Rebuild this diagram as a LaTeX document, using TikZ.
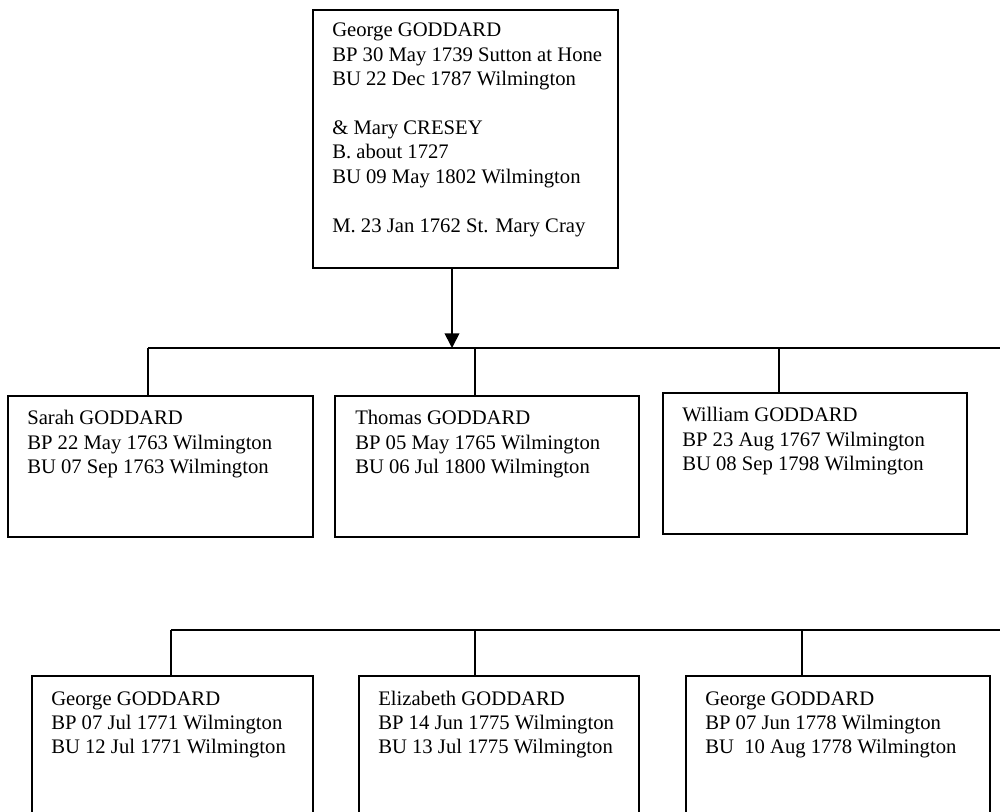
\documentclass[tikz,border=0pt]{standalone}
\usepackage{fontspec}
\setmainfont{Liberation Serif}
\usetikzlibrary{arrows.meta,calc}
\tikzset{
  person/.style={draw=black, line width=1.3pt, rectangle, inner sep=0pt, anchor=north west, fill=white},
  persontext/.style={anchor=base west, inner sep=0pt, font=\fontsize{15.5}{18.3}\selectfont},
  link/.style={draw=black, line width=1.3pt},
  arrowlink/.style={link, -{Triangle[length=11pt,width=11pt]}}
}
\newcommand{\ptext}[1]{\begin{tabular}[t]{@{}l@{}}#1\end{tabular}}
\begin{document}
\begin{tikzpicture}[x=0.75pt,y=-0.75pt]
\useasboundingbox (0,0) rectangle (1000,812);
\clip (0,0) rectangle (1000,812);
\fill[white] (0,0) rectangle (1000,812);

% parents
\node[person, minimum width=228.75pt, minimum height=193.5pt] (top) at (312,9) {};
\node[persontext] (toptext) at ($(top.north west)+(20,28)$) {\ptext{George GODDARD\\BP 30 May 1739 Sutton at Hone\\BU 22 Dec 1787 Wilmington\\ \\\& Mary CRESEY\\B. about 1727\\BU 09 May 1802 Wilmington\\ \\M. 23 Jan 1762 St. Mary Cray}};

% first row of children
\node[person, minimum width=228.75pt, minimum height=105.75pt] (sarah) at (7,395) {};
\node[persontext] (sarahtext) at ($(sarah.north west)+(20,30)$) {\ptext{Sarah GODDARD\\BP 22 May 1763 Wilmington\\BU 07 Sep 1763 Wilmington}};

\node[person, minimum width=228pt, minimum height=105.75pt] (thomas) at (334,395) {};
\node[persontext] (thomastext) at ($(thomas.north west)+(21,30)$) {\ptext{Thomas GODDARD\\BP 05 May 1765 Wilmington\\BU 06 Jul 1800 Wilmington}};

\node[person, minimum width=228pt, minimum height=105.75pt] (william) at (662,392) {};
\node[persontext] (williamtext) at ($(william.north west)+(20,30)$) {\ptext{William GODDARD\\BP 23 Aug 1767 Wilmington\\BU 08 Sep 1798 Wilmington}};

% second row of children
\node[person, minimum width=210.75pt, minimum height=120pt] (george2) at (31,675) {};
\node[persontext] (george2text) at ($(george2.north west)+(20,30)$) {\ptext{George GODDARD\\BP 07 Jul 1771 Wilmington\\BU 12 Jul 1771 Wilmington}};

\node[person, minimum width=210pt, minimum height=120pt] (elizabeth) at (358,675) {};
\node[persontext] (elizabethtext) at ($(elizabeth.north west)+(20,30)$) {\ptext{Elizabeth GODDARD\\BP 14 Jun 1775 Wilmington\\BU 13 Jul 1775 Wilmington}};

\node[person, minimum width=228pt, minimum height=120pt] (george3) at (685,675) {};
\node[persontext] (george3text) at ($(george3.north west)+(20,30)$) {\ptext{George GODDARD\\BP 07 Jun 1778 Wilmington\\BU\ \ 10 Aug 1778 Wilmington}};

% bus coordinates
\coordinate (j1) at (452,348);
\coordinate (b1L) at (148,348);
\coordinate (b1R) at (1000,348);
\coordinate (b1T) at (475,348);
\coordinate (b1W) at (779,348);
\coordinate (b2L) at (171,630);
\coordinate (b2R) at (1000,630);
\coordinate (b2E) at (475,630);
\coordinate (b2G) at (802,630);

% connectors
\draw[arrowlink] (top.south -| j1) -- (j1);
\draw[link] (b1L) -- (b1R);
\draw[link] (b1L) -- (sarah.north -| b1L);
\draw[link] (b1T) -- (thomas.north -| b1T);
\draw[link] (b1W) -- (william.north -| b1W);
\draw[link] (b2L) -- (b2R);
\draw[link] (b2L) -- (george2.north -| b2L);
\draw[link] (b2E) -- (elizabeth.north -| b2E);
\draw[link] (b2G) -- (george3.north -| b2G);
\end{tikzpicture}
\end{document}
